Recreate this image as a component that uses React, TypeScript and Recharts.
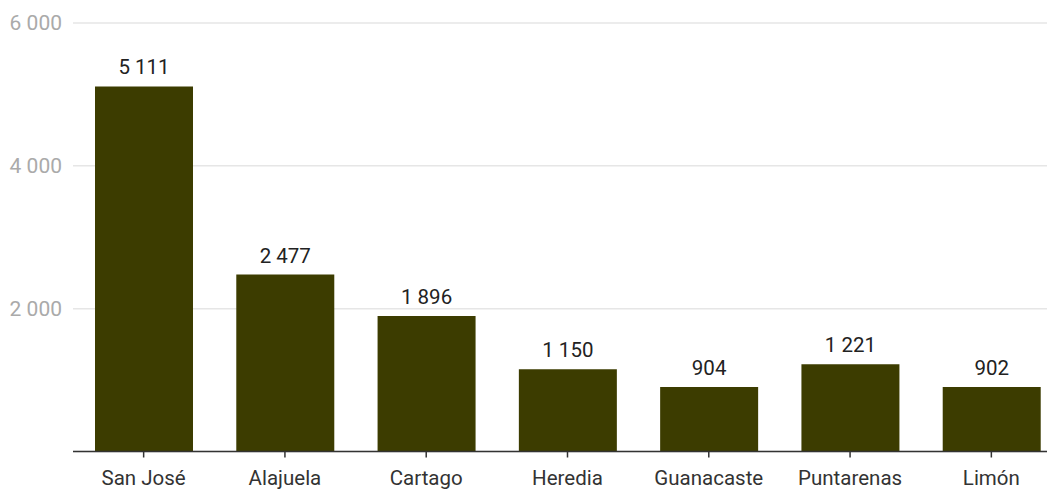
import { BarChart, Bar, XAxis, YAxis, CartesianGrid, LabelList } from "recharts";

const provinces = ["San José", "Alajuela", "Cartago", "Heredia", "Guanacaste", "Puntarenas", "Limón"];
const counts = [5111, 2477, 1896, 1150, 904, 1221, 902];
const yTicks = [2000, 4000, 6000];

const fmt = (v: number | string) => String(v).replace(/\B(?=(\d{3})+(?!\d))/g, " ");

const data = provinces.map((name, i) => ({ name, value: counts[i] }));

export default function App() {
  return (
    <div style={{ position: "absolute", left: 0, top: 0, width: 1047, height: 489, overflow: "hidden", background: "#fff" }}>
      <BarChart
        width={1062}
        height={489}
        data={data}
        margin={{ top: 23, right: 0, bottom: 0, left: 0 }}
        barSize={98}
        style={{ fontFamily: "Roboto, sans-serif" }}
      >
        <CartesianGrid vertical={false} stroke="#e6e6e6" strokeWidth={1.5} />
        <XAxis
          dataKey="name"
          height={37.5}
          axisLine={{ stroke: "#333", strokeWidth: 1.5 }}
          tickLine={{ stroke: "#333", strokeWidth: 1.5 }}
          tickSize={6}
          tickMargin={13}
          tick={{ fill: "#333", fontSize: 20.5 }}
          interval={0}
        />
        <YAxis
          width={73}
          domain={[0, 6000]}
          ticks={yTicks}
          axisLine={false}
          tickLine={false}
          tickMargin={5}
          tick={{ fill: "#aaa", fontSize: 21 }}
          tickFormatter={fmt}
        />
        <Bar dataKey="value" fill="#3c3c00" isAnimationActive={false}>
          <LabelList dataKey="value" position="top" offset={12} fill="#222" fontSize={20.5} formatter={fmt} />
        </Bar>
      </BarChart>
    </div>
  );
}
